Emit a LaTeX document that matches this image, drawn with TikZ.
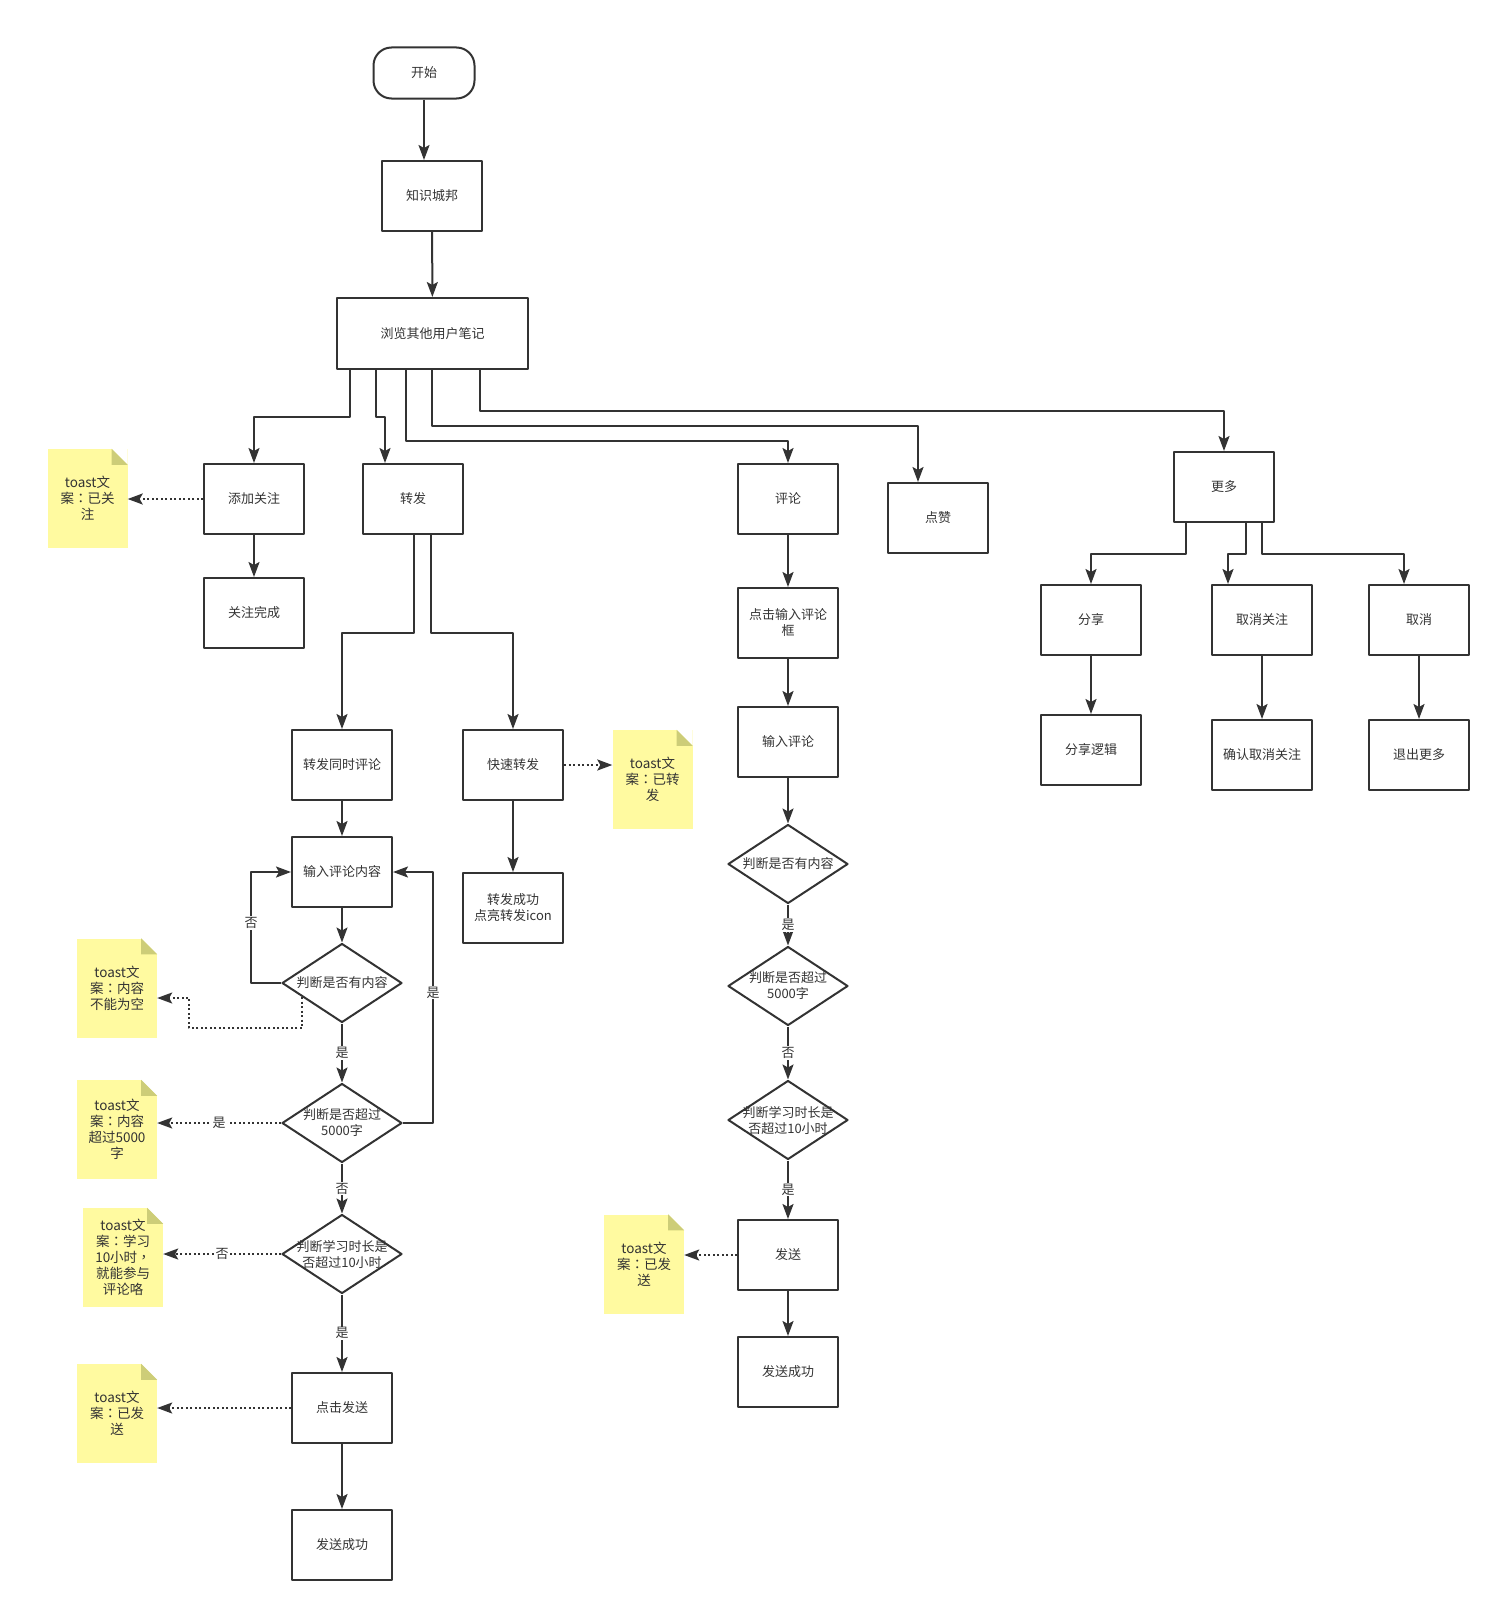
\documentclass[tikz,border=0pt]{standalone}
\usepackage{fontspec}
\newfontfamily\cjk{Noto Sans CJK SC}
\newfontfamily\cjkp{Noto Sans CJK TC}
\usetikzlibrary{shapes.geometric, arrows.meta, calc}
\definecolor{linec}{HTML}{333333}
\definecolor{notec}{RGB}{255,250,160}
\definecolor{foldc}{RGB}{205,205,120}

\begin{document}
\begin{tikzpicture}[x=1pt, y=-1pt, >={Stealth[length=15pt,width=11pt,inset=3pt]}, line join=round,
		font=\cjk\fontsize{13}{16}\selectfont,
		procbox/.style={draw=linec, line width=2pt, minimum width=100pt, minimum height=70pt, inner sep=2pt, text=linec, align=center},
		startbox/.style={procbox, minimum width=101pt, minimum height=51pt, rounded corners=18pt},
		decbox/.style={diamond, draw=linec, line width=2pt, minimum width=120pt, minimum height=79pt, inner sep=0pt},
		dectext/.style={text=linec, align=center, inner sep=0pt},
		toast/.style={fill=notec, minimum width=80pt, minimum height=99pt, inner sep=0pt, text=linec, align=center, font=\cjk\fontsize{13.5}{16}\selectfont},
		lbl/.style={fill=white, inner sep=1pt, text=linec},
		conn/.style={draw=linec, line width=2pt},
		dotline/.style={conn, dash pattern=on 2pt off 2.5pt}]
		\useasboundingbox (0,0) rectangle (1501,1611);
		% Khung chính
		\node[startbox] (start) at (424,73) {开始};
		\node[procbox] (kb) at (432,196) {知识城邦};
		\node[procbox, minimum width=191pt, minimum height=71pt] (view) at (432.5,333.5) {浏览其他用户笔记};
		\draw[conn,->] (start.south) -- (start.south |- kb.north);
		\draw[conn,->] (kb) -- (view);
		% Hàng chức năng
		\node[procbox] (add) at (254,499) {添加关注};
		\node[procbox] (done1) at (254,613) {关注完成};
		\node[procbox] (zf) at (413,499) {转发};
		\node[procbox] (pl) at (788,499) {评论};
		\node[procbox] (dz) at (938,518) {点赞};
		\node[procbox] (more) at (1224,487) {更多};
		\draw[conn,->] ([xshift=-82.5pt]view.south) -- ++(0,47) -| (add.north);
		\draw[conn,->] ([xshift=-56.5pt]view.south) -- ++(0,47) -| ([xshift=-28pt]zf.north);
		\draw[conn,->] ([xshift=-26.5pt]view.south) -- ++(0,71) -| (pl.north);
		\draw[conn,->] ([xshift=-0.5pt]view.south) -- ++(0,56) -| ([xshift=-20pt]dz.north);
		\draw[conn,->] ([xshift=47.5pt]view.south) -- ++(0,41) -| (more.north);
		\draw[conn,->] (add) -- (done1);
		% Ghi chú toast
		\node[toast] (n1) at (87.5,498.5) {toast文\\案{\cjkp：}已关\\注};
		\node[toast] (n2) at (117,988) {toast文\\案{\cjkp：}内容\\不能为空};
		\node[toast] (n3) at (652.5,779.5) {toast文\\案{\cjkp：}已转\\发};
		\node[toast] (n4) at (117,1129.5) {toast文\\案{\cjkp：}内容\\超过5000\\字};
		\node[toast] (n5) at (123,1257.5) {toast文\\案{\cjkp：}学习\\10小时{\cjkp，}\\就能参与\\评论咯};
		\node[toast] (n6) at (117,1413.5) {toast文\\案{\cjkp：}已发\\送};
		\node[toast] (n7) at (644,1264) {toast文\\案{\cjkp：}已发\\送};
		\foreach \n in {n1,n2,n3,n4,n5,n6,n7} {
			\fill[white] ([xshift=-16pt]\n.north east) -- (\n.north east) -- ([yshift=-16pt]\n.north east) -- cycle;
			\fill[foldc] ([xshift=-16pt]\n.north east) -- ([xshift=-16pt,yshift=-16pt]\n.north east) -- ([yshift=-16pt]\n.north east) -- cycle;
		}
		\draw[dotline,->] (add.west) -- (add.west -| n1.east);
		% Nhánh chuyển tiếp
		\node[procbox] (zfpl) at (342,765) {转发同时评论};
		\node[procbox] (kszf) at (513,765) {快速转发};
		\node[procbox] (zfok) at (513,908) {转发成功\\点亮转发icon};
		\draw[conn,->] ([xshift=1pt]zf.south) -- ++(0,98) -| (zfpl.north);
		\draw[conn,->] ([xshift=18pt]zf.south) -- ++(0,98) -| (kszf.north);
		\draw[conn,->] (kszf) -- (zfok);
		\draw[dotline,->] (kszf.east) -- (kszf.east -| n3.west);
		\node[procbox] (in) at (342,872) {输入评论内容};
		\node[decbox, label={[dectext]center:判断是否有内容}] (d1) at (342,983) {};
		\node[decbox, label={[dectext]center:判断是否超过\\5000字}] (d2) at (342,1123) {};
		\node[decbox, label={[dectext]center:判断学习时长是\\否超过10小时}] (d3) at (342,1254) {};
		\node[procbox] (send) at (342,1408) {点击发送};
		\node[procbox] (sendok) at (342,1545) {发送成功};
		\draw[conn,->] (zfpl) -- (in);
		\draw[conn,->] (in) -- (d1);
		\draw[conn,->] (d1) -- node[lbl] {是} (d2);
		\draw[conn,->] (d2) -- node[lbl] {否} (d3);
		\draw[conn,->] (d3) -- node[lbl] {是} (send);
		\draw[conn,->] (send) -- (sendok);
		\draw[conn,->] (d1.west) -- ++(-30,0) |- node[lbl, pos=0.27] {否} (in.west);
		\draw[conn,->] (d2.east) -- ++(30,0) |- node[lbl, pos=0.26] {是} (in.east);
		\draw[dotline,->] ($(d1.west)!0.35!(d1.south)$) -- ++(0,31) -- ++(-113,0) |- ([yshift=-10pt]n2.east);
		\draw[dotline,->] (d2.west) -- node[lbl] {是} (d2.west -| n4.east);
		\draw[dotline,->] (d3.west) -- node[lbl] {否} (d3.west -| n5.east);
		\draw[dotline,->] (send.west) -- (send.west -| n6.east);
		% Nhánh bình luận
		\node[procbox] (pinput) at (788,623) {点击输入评论\\框};
		\node[procbox] (pin) at (788,742) {输入评论};
		\node[decbox, label={[dectext]center:判断是否有内容}] (da) at (788,864) {};
		\node[decbox, label={[dectext]center:判断是否超过\\5000字}] (db) at (788,986) {};
		\node[decbox, label={[dectext]center:判断学习时长是\\否超过10小时}] (dc) at (788,1120) {};
		\node[procbox] (fsend) at (788,1255) {发送};
		\node[procbox] (fsendok) at (788,1372) {发送成功};
		\draw[conn,->] (pl) -- (pinput);
		\draw[conn,->] (pinput) -- (pin);
		\draw[conn,->] (pin) -- (da);
		\draw[conn,->] (da) -- node[lbl] {是} (db);
		\draw[conn,->] (db) -- node[lbl] {否} (dc);
		\draw[conn,->] (dc) -- node[lbl] {是} (fsend);
		\draw[conn,->] (fsend) -- (fsendok);
		\draw[dotline,->] (fsend.west) -- (fsend.west -| n7.east);
		% Nhánh thêm
		\node[procbox] (share) at (1091,620) {分享};
		\node[procbox] (unf) at (1262,620) {取消关注};
		\node[procbox] (cancel) at (1419,620) {取消};
		\node[procbox] (sharel) at (1091,750) {分享逻辑};
		\node[procbox] (unfok) at (1262,755) {确认取消关注};
		\node[procbox] (quit) at (1419,755) {退出更多};
		\draw[conn,->] ([xshift=-38pt]more.south) -- ++(0,31) -| (share.north);
		\draw[conn,->] ([xshift=22pt]more.south) -- ++(0,31) -| ([xshift=-34pt]unf.north);
		\draw[conn,->] ([xshift=38pt]more.south) -- ++(0,31) -| ([xshift=-15pt]cancel.north);
		\draw[conn,->] (share) -- (sharel);
		\draw[conn,->] (unf) -- (unfok);
		\draw[conn,->] (cancel) -- (quit);
	\end{tikzpicture}
\end{document}
